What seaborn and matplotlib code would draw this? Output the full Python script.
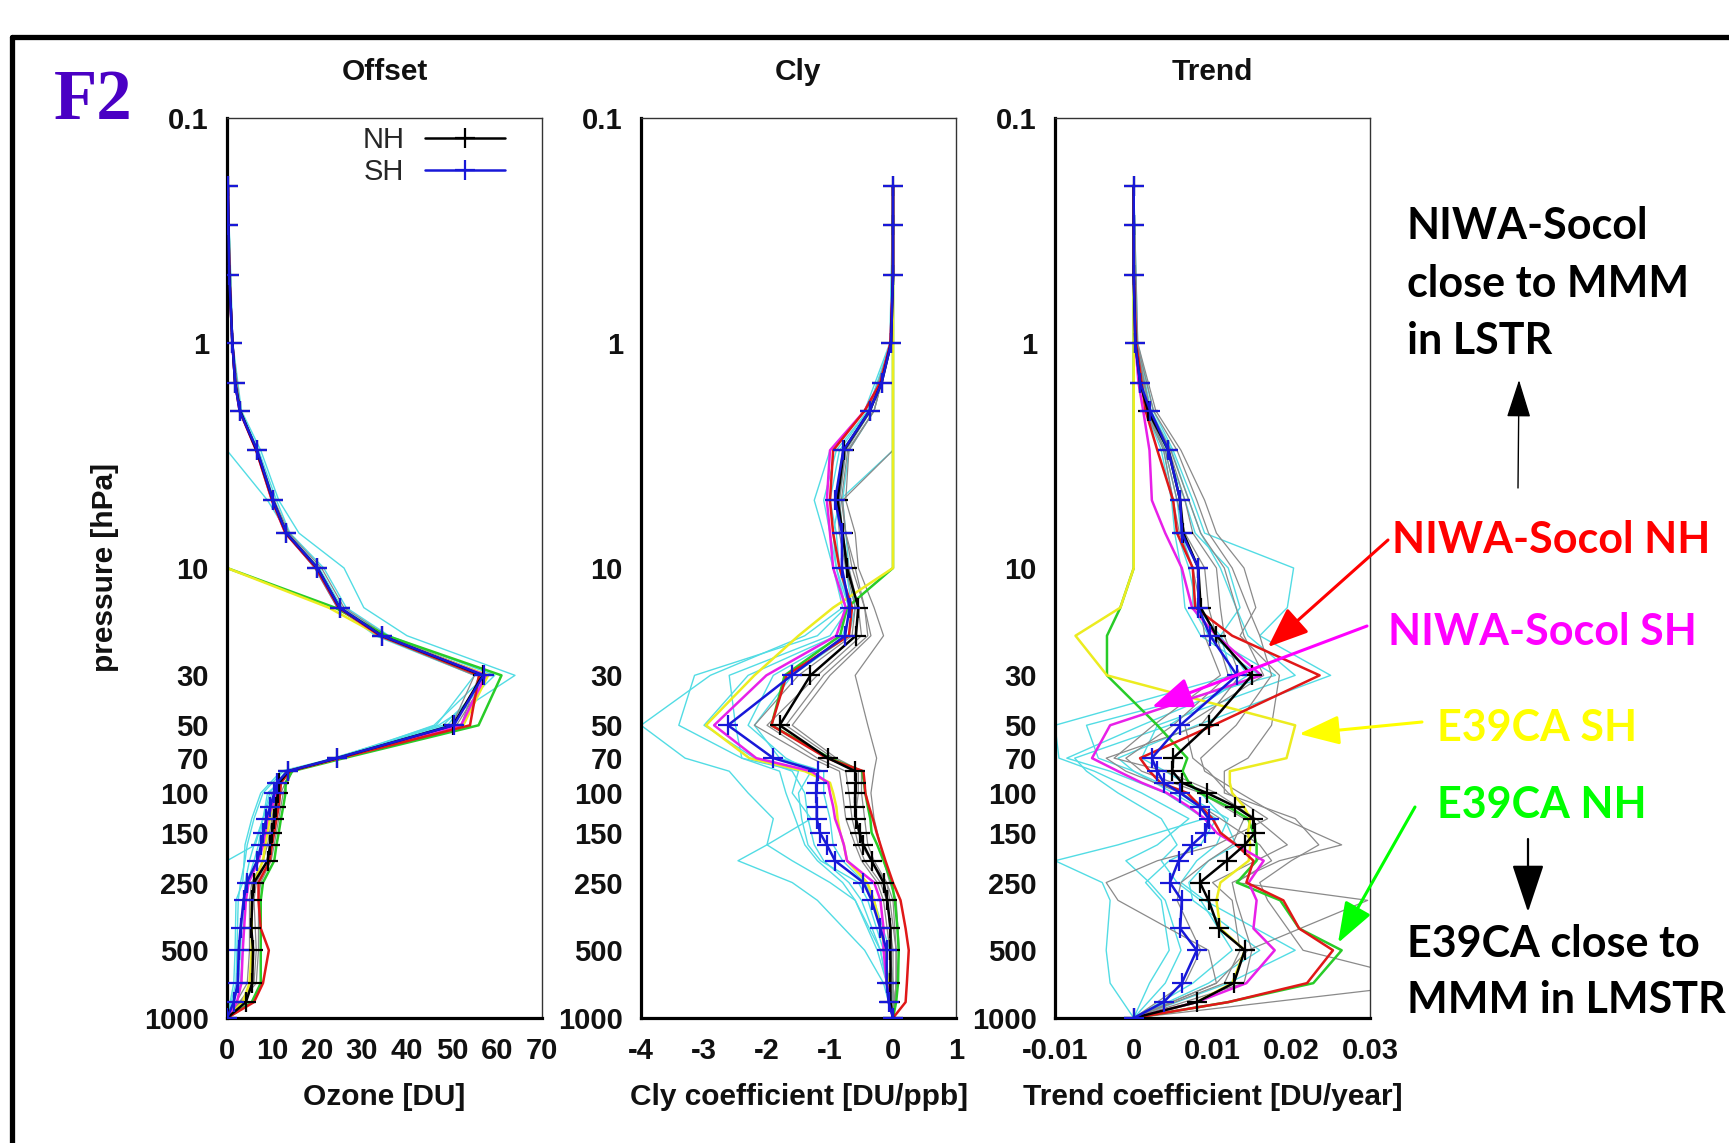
import matplotlib
matplotlib.use("Agg")
import matplotlib.pyplot as plt
from matplotlib.lines import Line2D
from matplotlib.patches import FancyArrowPatch
from matplotlib.ticker import NullLocator
import numpy as np
import seaborn as sns

sns.set_style("white")
plt.rcParams['font.family'] = ['Liberation Sans', 'DejaVu Sans']

# ---------------- data ----------------
levels = [0.2, 0.3, 0.5, 1, 1.5, 2, 3, 5, 7, 10, 15, 20, 30, 50, 70, 80, 90, 100,
          115, 130, 150, 170, 200, 250, 300, 400, 500, 700, 850, 1000]
model_levels = [0.2, 1, 2, 3, 5, 7, 10, 15, 20, 30, 50, 70, 80, 100, 130, 170,
                200, 250, 300, 500, 700, 1000]

ytick_vals = [0.1, 1, 10, 30, 50, 70, 100, 150, 250, 500, 1000]
ytick_labels = ["0.1", "1", "10", "30", "50", "70", "100", "150", "250", "500", "1000"]

# ---- Offset panel (Ozone DU)
offset_nh = [0.2, 0.3, 0.5, 1.2, 1.8, 2.9, 6.6, 10.2, 13.2, 20.1, 25.0, 34.4, 56.8, 50.2, 24.5,
             13.6, 11.6, 11.3, 10.9, 10.5, 10.0, 9.6, 9.0, 6.0, 5.6, 5.4, 5.8, 5.6, 4.2, 0.0]
offset_sh = [0.2, 0.3, 0.5, 1.2, 1.8, 2.8, 6.7, 10.2, 13.2, 20.1, 25.0, 34.4, 57.0, 50.4, 24.4,
             13.5, 11.1, 10.5, 9.6, 8.7, 8.1, 7.6, 6.7, 4.4, 3.7, 3.0, 2.6, 2.4, 1.5, 0.0]
offset_red = [0.2, 0.3, 0.5, 1.2, 1.8, 2.8, 6.5, 10.0, 13.0, 19.8, 24.8, 34.0, 56.0, 54.0, 25.0,
              14.0, 12.0, 11.8, 11.5, 11.0, 10.5, 10.0, 9.5, 7.0, 7.0, 7.5, 9.3, 8.0, 6.0, 0.0]
offset_magenta = [0.2, 0.3, 0.5, 1.2, 1.8, 2.8, 6.5, 10.0, 13.0, 19.8, 24.8, 34.0, 57.5, 52.0, 24.8,
                  13.5, 11.5, 11.0, 10.0, 9.0, 8.5, 8.0, 7.0, 4.8, 4.2, 3.8, 3.5, 3.2, 2.2, 0.0]
offset_yellow = [0, 0, 0, 0, 0, 0, 0, 0, 0, 0, 22.6, 34.0, 58.0, 52.5, 25.0,
                 13.5, 11.5, 11.0, 10.0, 9.5, 9.0, 8.5, 8.0, 6.0, 5.5, 5.5, 5.5, 5.0, 3.5, 0.0]
offset_green = [0, 0, 0, 0, 0, 0, 0, 0, 0, 0, 24.0, 35.5, 61.0, 55.9, 26.0,
                14.5, 13.0, 13.0, 12.5, 12.0, 11.5, 11.0, 10.5, 8.0, 7.5, 7.5, 7.5, 7.5, 5.5, 0.0]
offset_cyan = [
    [0.2, 1.3, 3.2, 7.5, 11.5, 16.0, 26.0, 30.4, 40.0, 64.0, 47.0, 25.0, 14.0, 10.0, 8.0, 7.0, 6.0, 4.5, 3.5, 3.0, 2.5, 0.0],
    [0.2, 1.2, 3.0, 7.0, 11.0, 14.0, 21.5, 26.5, 36.0, 59.5, 48.0, 23.5, 13.0, 9.5, 8.0, 6.0, 5.0, 4.0, 3.8, 3.5, 3.0, 0.0],
    [0.0, 0.0, 0.0, 0.0, 9.0, 13.5, 20.5, 25.5, 35.0, 58.0, 49.0, 24.0, 12.5, 8.0, 6.0, 4.5, 4.0, 3.0, 2.5, 2.2, 2.0, 0.0],
    [0.2, 1.2, 2.9, 6.8, 10.5, 13.5, 20.0, 25.5, 35.0, 57.5, 46.0, 25.0, 14.5, 9.0, 8.0, 6.3, 0.0, 0.0, 0.0, 0.0, 0.0, 0.0],
    [0.2, 1.1, 2.7, 6.5, 10.0, 13.0, 19.5, 24.5, 33.0, 55.0, 46.5, 24.0, 12.0, 7.5, 5.5, 4.0, 3.8, 3.5, 2.0, 1.8, 1.5, 0.0],
]
offset_gray = [
    [0.2, 1.2, 3.0, 6.8, 10.5, 13.8, 21.0, 26.0, 35.5, 58.0, 51.0, 25.0, 14.5, 12.5, 11.5, 10.5, 9.8, 7.5, 7.0, 7.0, 6.5, 0.0],
    [0.2, 1.2, 2.9, 6.5, 10.0, 13.2, 20.0, 25.0, 34.0, 56.0, 52.0, 25.5, 14.0, 12.0, 11.0, 10.0, 9.0, 6.5, 6.0, 6.5, 6.0, 0.0],
    [0.2, 1.1, 2.8, 6.4, 10.0, 13.0, 19.5, 24.5, 33.5, 55.0, 50.0, 24.0, 13.0, 11.0, 10.0, 9.0, 8.0, 5.5, 5.0, 5.0, 4.5, 0.0],
]

# ---- Cly panel (DU/ppb)
cly_nh = [0, 0, 0, -0.03, -0.18, -0.37, -0.78, -0.88, -0.80, -0.73, -0.55, -0.59, -1.31, -1.80, -1.03,
          -0.60, -0.59, -0.60, -0.60, -0.59, -0.53, -0.47, -0.34, -0.15, -0.09, -0.04, -0.04, -0.04, -0.04, 0]
cly_sh = [0, 0, 0, -0.03, -0.18, -0.37, -0.79, -0.92, -0.81, -0.81, -0.69, -0.76, -1.61, -2.62, -1.90,
          -1.19, -1.21, -1.22, -1.21, -1.21, -1.16, -1.05, -0.92, -0.47, -0.34, -0.20, -0.10, -0.10, -0.07, 0]
cly_red = [0, 0, 0, -0.04, -0.2, -0.45, -0.95, -1.0, -0.95, -0.85, -0.65, -0.7, -1.69, -1.93, -1.05,
           -0.47, -0.45, -0.44, -0.38, -0.32, -0.26, -0.2, -0.12, 0.0, 0.12, 0.2, 0.25, 0.22, 0.2, 0]
cly_magenta = [0, 0, 0, -0.04, -0.2, -0.45, -1.0, -1.05, -1.0, -0.95, -0.75, -0.9, -2.01, -2.84, -2.17,
               -1.3, -1.03, -1.0, -0.95, -0.92, -0.84, -0.78, -0.73, -0.3, -0.2, -0.15, -0.15, -0.1, -0.05, 0]
cly_yellow = [0, 0, 0, 0, 0, 0, 0, 0, 0, 0, -0.95, -1.5, -2.2, -2.97, -2.28,
              -1.4, -1.0, -0.95, -0.9, -0.88, -0.84, -0.78, -0.73, -0.41, -0.3, -0.2, -0.12, -0.08, -0.05, 0]
cly_green = [0, 0, 0, 0, 0, 0, 0, 0, 0, 0, -0.73, -0.84, -1.72, -1.93, -1.0,
             -0.49, -0.46, -0.44, -0.4, -0.36, -0.34, -0.25, -0.15, -0.02, 0.03, 0.07, 0.09, 0.08, 0.05, 0]
cly_cyan = [
    [0, -0.05, -0.45, -1.0, -1.25, -1.1, -0.95, -0.8, -1.4, -2.9, -4.0, -3.3, -2.6, -2.3, -1.9, -2.0, -1.6, -1.0, -0.6, -0.2, -0.1, 0],
    [0, -0.04, -0.4, -0.9, -1.1, -1.0, -0.9, -0.75, -1.2, -3.15, -3.4, -2.4, -1.5, -1.6, -1.3, -2.0, -2.46, -1.6, -1.2, -0.45, -0.15, 0],
    [0, 0, 0, 0, -0.85, -0.95, -0.9, -0.7, -0.9, -2.3, -3.0, -2.2, -1.6, -1.4, -1.35, -1.25, -1.1, -0.7, -0.5, -0.2, -0.1, 0],
    [0, -0.03, -0.35, -0.75, -0.85, -0.8, -0.75, -0.65, -0.8, -1.9, -2.3, -1.7, -1.3, -1.5, -1.45, -1.35, -1.15, -0.55, -0.4, -0.15, -0.05, 0],
    [0, -0.02, -0.3, -0.7, -0.8, -0.75, -0.7, -0.6, -0.7, -1.6, -2.2, -1.8, -1.1, -1.1, -1.0, -0.95, -0.8, -0.45, -0.3, -0.05, 0.0, 0],
    [0, -0.03, -0.4, -0.85, -1.0, -0.9, -0.85, -0.7, -1.0, -2.6, -2.5, -2.4, -1.8, -1.7, -1.55, -1.4, -1.2, -0.8, -0.6, -0.25, -0.1, 0],
]
cly_gray = [
    [0, -0.02, -0.3, -0.7, -0.75, -0.6, -0.55, -0.3, -0.15, -0.6, -0.4, -0.26, -0.3, -0.35, -0.3, -0.2, -0.15, -0.05, 0.05, 0.1, 0.05, 0],
    [0, 0, 0, 0, -0.8, -0.75, -0.65, -0.45, -0.35, -1.0, -1.6, -0.9, -0.5, -0.5, -0.45, -0.4, -0.3, -0.1, -0.05, 0.05, 0.05, 0],
    [0, -0.03, -0.35, -0.75, -0.85, -0.8, -0.7, -0.55, -0.5, -1.2, -2.0, -1.2, -0.75, -0.7, -0.65, -0.55, -0.45, -0.2, -0.1, 0, 0, 0],
    [0, -0.03, -0.38, -0.8, -0.9, -0.85, -0.75, -0.6, -0.65, -1.5, -2.2, -1.3, -0.85, -0.8, -0.75, -0.6, -0.5, -0.25, -0.15, -0.05, 0, 0],
    [0, -0.02, -0.3, -0.72, -0.82, -0.75, -0.6, -0.45, -0.4, -1.1, -1.7, -0.95, -0.55, -0.55, -0.6, -0.5, -0.35, -0.1, 0.0, 0.05, 0.05, 0],
]

# ---- Trend panel (DU/year)
trend_nh = [0, 0, 0, 0.0002, 0.0008, 0.0018, 0.0044, 0.0059, 0.0063, 0.0082, 0.0085, 0.0105, 0.0150, 0.0095, 0.0050,
            0.0049, 0.0061, 0.0093, 0.0129, 0.0152, 0.0154, 0.0141, 0.0118, 0.0084, 0.0095, 0.0108, 0.0141, 0.0127, 0.0080, 0]
trend_sh = [0, 0, 0, 0.0002, 0.0008, 0.0021, 0.0044, 0.0059, 0.0061, 0.0082, 0.0082, 0.0097, 0.0131, 0.0059, 0.0023,
            0.0030, 0.0038, 0.0059, 0.0084, 0.0095, 0.0091, 0.0074, 0.0057, 0.0046, 0.0061, 0.0059, 0.0080, 0.0061, 0.0038, 0]
trend_red = [0, 0, 0, 0.0003, 0.001, 0.0015, 0.003, 0.005, 0.0055, 0.0075, 0.0078, 0.0125, 0.0236, 0.0101, 0.0008,
             0.002, 0.0034, 0.0068, 0.0085, 0.010, 0.011, 0.013, 0.0152, 0.0143, 0.019, 0.021, 0.0253, 0.022, 0.012, 0]
trend_magenta = [0, 0, 0, 0.0002, 0.0006, 0.0012, 0.002, 0.0023, 0.004, 0.0061, 0.0074, 0.0105, 0.0162, -0.003, -0.0053,
                 -0.002, 0.001, 0.0042, 0.007, 0.009, 0.0105, 0.013, 0.0165, 0.0146, 0.0156, 0.0152, 0.0179, 0.0143, 0.008, 0]
trend_yellow = [0, 0, 0, 0, 0, 0, 0, 0, 0, 0, -0.0017, -0.0074, -0.0034, 0.0205, 0.0194,
                0.0122, 0.0122, 0.0125, 0.014, 0.0148, 0.0145, 0.0148, 0.0146, 0.011, 0.0105, 0.011, 0.0141, 0.0125, 0.008, 0]
trend_green = [0, 0, 0, 0, 0, 0, 0, 0, 0, 0, -0.0017, -0.0034, -0.0034, 0.003, 0.0068,
               0.0062, 0.007, 0.0084, 0.012, 0.0145, 0.0152, 0.0156, 0.0156, 0.0131, 0.0186, 0.021, 0.0264, 0.0228, 0.012, 0]
trend_cyan = [
    [0, 0.0005, 0.0025, 0.005, 0.0075, 0.009, 0.0203, 0.0195, 0.016, 0.025, 0.008, -0.002, 0.0, 0.006, 0.012, 0.0105, 0.008, 0.006, 0.009, 0.0205, 0.012, 0],
    [0, 0.0003, 0.0018, 0.0038, 0.005, 0.0055, 0.007, 0.008, 0.011, 0.0125, -0.01, -0.0095, -0.005, 0.001, 0.007, 0.003, -0.001, 0.002, 0.004, 0.006, 0.004, 0],
    [0, 0.0002, 0.0015, 0.0035, 0.0048, 0.0052, 0.006, 0.0065, 0.0085, 0.016, 0.001, -0.0085, -0.003, 0.004, 0.009, -0.002, -0.01, -0.004, -0.003, -0.0035, -0.003, 0],
    [0, 0.0004, 0.0022, 0.0048, 0.007, 0.0085, 0.011, 0.013, 0.0145, 0.0205, 0.003, 0.001, 0.004, 0.0085, 0.0115, 0.013, 0.0095, 0.007, 0.0075, 0.016, 0.0095, 0],
    [0, 0.0002, 0.0016, 0.004, 0.0055, 0.006, 0.0075, 0.0075, 0.0095, 0.018, -0.006, -0.0045, 0.0, 0.005, 0.0105, 0.0085, 0.0045, 0.0015, 0.0035, 0.0045, 0.002, 0],
    [0, 0.0003, 0.0019, 0.0042, 0.0065, 0.0078, 0.012, 0.0135, 0.011, 0.0145, 0.0045, -0.0075, -0.006, -0.002, 0.0035, 0.0055, 0.0035, 0.0055, 0.0085, 0.0125, 0.0075, 0],
]
trend_gray = [
    [0, 0.0004, 0.0025, 0.0055, 0.008, 0.0095, 0.0125, 0.0145, 0.016, 0.0175, 0.013, 0.0085, 0.009, 0.0135, 0.019, 0.0264, 0.0185, 0.0125, 0.013, 0.015, 0.014, 0],
    [0, 0.0003, 0.002, 0.0045, 0.0065, 0.0075, 0.0105, 0.011, 0.0115, 0.0135, 0.0085, -0.0035, -0.001, 0.006, 0.011, 0.016, 0.0175, 0.013, 0.0297, 0.0145, 0.0105, 0],
    [0, 0.0005, 0.0028, 0.006, 0.009, 0.0105, 0.014, 0.0155, 0.0135, 0.0185, 0.0175, 0.0145, 0.0115, 0.0115, 0.0205, 0.0235, 0.02, 0.016, 0.017, 0.0215, 0.038, 0],
    [0, 0.0002, 0.0017, 0.004, 0.0055, 0.0065, 0.009, 0.0095, 0.0105, 0.012, 0.005, -0.001, 0.001, 0.0085, 0.014, 0.0125, 0.0095, 0.006, 0.0055, 0.0085, 0.0065, 0],
    [0, 0.0003, 0.0021, 0.0047, 0.007, 0.0085, 0.0115, 0.013, 0.014, 0.0165, 0.0065, 0.0075, 0.0095, 0.012, 0.017, 0.0105, 0.003, -0.0035, -0.002, 0.0095, 0.0105, 0],
    [0, 0.0002, 0.0015, 0.0038, 0.005, 0.0058, 0.0075, 0.0085, 0.009, 0.011, 0.0025, -0.0025, 0.004, 0.0105, 0.0155, 0.0195, 0.0155, 0.01, 0.0125, 0.0135, 0.0115, 0],
]

panel_titles = ["Offset", "Cly", "Trend"]
panel_xlabels = ["Ozone [DU]", "Cly coefficient [DU/ppb]", "Trend coefficient [DU/year]"]
panel_xlims = [(0, 70), (-4, 1), (-0.01, 0.03)]
panel_xticks = [[0, 10, 20, 30, 40, 50, 60, 70], [-4, -3, -2, -1, 0, 1], [-0.01, 0, 0.01, 0.02, 0.03]]
panel_xticklabels = [["0", "10", "20", "30", "40", "50", "60", "70"],
                     ["-4", "-3", "-2", "-1", "0", "1"],
                     ["-0.01", "0", "0.01", "0.02", "0.03"]]

# ---------------- figure ----------------
W, H = 1729, 1143
fig = plt.figure(figsize=(W / 100, H / 100), dpi=100)
fig.patch.set_facecolor("white")


def fx(p):
    return p / W


def fy(p):
    return 1 - p / H


AX_TOP, AX_BOT, AX_W = 118, 1018, 315
lefts = [227, 641, 1055]

CYAN = "#52dce4"
GRAY = "#8a8a8a"
RED = "#e01818"
MAGENTA = "#e820e8"
YELLOW = "#ecec20"
GREEN = "#28cc28"
BLUE = "#1818d8"

panels = [
    (offset_nh, offset_sh, offset_red, offset_magenta, offset_yellow, offset_green, offset_cyan, offset_gray),
    (cly_nh, cly_sh, cly_red, cly_magenta, cly_yellow, cly_green, cly_cyan, cly_gray),
    (trend_nh, trend_sh, trend_red, trend_magenta, trend_yellow, trend_green, trend_cyan, trend_gray),
]


def draw(ax, xs, ys, **kw):
    sns.lineplot(x=np.asarray(xs, float), y=np.asarray(ys, float), ax=ax, orient="y",
                 sort=False, estimator=None, **kw)


MK = dict(marker="+", markersize=14, markeredgewidth=1.6)

axes = []
for i, (left, data) in enumerate(zip(lefts, panels)):
    nh, sh, red, mag, yel, grn, cyans, grays = data
    ax = fig.add_axes([fx(left), fy(AX_BOT), AX_W / W, (AX_BOT - AX_TOP) / H])
    ax.set_facecolor("white")
    ax.set_yscale("log")
    for v in cyans:
        draw(ax, v, model_levels, color=CYAN, lw=1.0, zorder=1)
    for v in grays:
        draw(ax, v, model_levels, color=GRAY, lw=0.9, zorder=1)
    draw(ax, grn, levels, color=GREEN, lw=1.8, zorder=2)
    draw(ax, yel, levels, color=YELLOW, lw=1.8, zorder=2)
    draw(ax, mag, levels, color=MAGENTA, lw=1.8, zorder=2)
    draw(ax, red, levels, color=RED, lw=1.8, zorder=2)
    draw(ax, nh, levels, color="black", lw=1.8, markeredgecolor="black", zorder=3, **MK)
    draw(ax, sh, levels, color=BLUE, lw=1.8, markeredgecolor=BLUE, zorder=4, **MK)

    ax.set_ylim(1000, 0.1)
    ax.set_xlim(*panel_xlims[i])
    ax.set_yticks(ytick_vals)
    ax.set_yticklabels(ytick_labels, fontweight="bold", fontsize=21)
    ax.yaxis.set_minor_locator(NullLocator())
    ax.set_xticks(panel_xticks[i])
    ax.set_xticklabels(panel_xticklabels[i], fontweight="bold", fontsize=21)
    ax.xaxis.set_minor_locator(NullLocator())
    ax.set_xlabel("")
    ax.set_ylabel("")
    ax.tick_params(axis="both", which="major", direction="in", length=9, width=1.6,
                   color="black", top=False, right=False, labelcolor="#111111")
    ax.tick_params(axis="y", pad=13)
    ax.tick_params(axis="x", pad=14)
    for s in ["left", "bottom"]:
        ax.spines[s].set_linewidth(2.3)
        ax.spines[s].set_color("black")
    for s in ["top", "right"]:
        ax.spines[s].set_linewidth(1.0)
        ax.spines[s].set_color("#333333")
    ax.grid(False)
    cx = left + AX_W / 2
    fig.text(fx(cx), fy(72), panel_titles[i], ha="center", va="center",
             fontsize=21.5, fontweight="bold", color="#111111")
    fig.text(fx(cx), fy(1097), panel_xlabels[i], ha="center", va="center",
             fontsize=21.5, fontweight="bold", color="#111111")
    axes.append(ax)

fig.text(fx(105), fy(568), "pressure [hPa]", rotation=90, ha="center", va="center",
         fontsize=21.5, fontweight="bold", color="#111111")

# legend in first panel
handles = [Line2D([], [], color="black", lw=1.8, markeredgecolor="black", **MK),
           Line2D([], [], color=BLUE, lw=1.8, markeredgecolor=BLUE, **MK)]
leg = axes[0].legend(handles, ["NH", "SH"], loc="upper right",
                     bbox_to_anchor=((505 - 227) / AX_W, 1 - (126 - AX_TOP) / (AX_BOT - AX_TOP)),
                     frameon=False, markerfirst=False, handlelength=2.75, handletextpad=0.7,
                     fontsize=21, labelspacing=0.15, borderpad=0, borderaxespad=0, numpoints=1)

# F2 label
fig.text(fx(54), fy(119), "F2", family=["Liberation Serif", "DejaVu Serif"], fontweight="bold",
         fontsize=51, color="#4a00c4", ha="left", va="baseline")

# outer frame (partially visible)
fig.add_artist(Line2D([fx(12), fx(12)], [fy(37), fy(1300)], transform=fig.transFigure,
                      color="black", lw=3.8, solid_capstyle="round"))
fig.add_artist(Line2D([fx(12), fx(1900)], [fy(37), fy(37)], transform=fig.transFigure,
                      color="black", lw=3.8, solid_capstyle="round"))

# annotations
ann_font = dict(family=["Lato", "Liberation Sans", "DejaVu Sans"], fontweight="bold", fontsize=31)


def note(x, y, s, color):
    fig.text(fx(x), fy(y), s, color=color, ha="left", va="baseline", **ann_font)


note(1407, 239, "NIWA-Socol", "black")
note(1407, 297, "close to MMM", "black")
note(1407, 354, "in LSTR", "black")
note(1392, 553, "NIWA-Socol NH", "#ff0000")
note(1388, 645, "NIWA-Socol SH", "#ff00ff")
note(1437, 741, "E39CA SH", "#ffff00")
note(1437, 818, "E39CA NH", "#00ff00")
note(1407, 957, "E39CA close to", "black")
note(1407, 1013, "MMM in LMSTR", "black")


def arrow(tail, tip, color, lw, hl, hw):
    a = FancyArrowPatch(posA=(fx(tail[0]), fy(tail[1])), posB=(fx(tip[0]), fy(tip[1])),
                        transform=fig.transFigure,
                        arrowstyle=f"-|>,head_length={hl},head_width={hw}",
                        mutation_scale=1, color=color, lw=lw, shrinkA=0, shrinkB=0)
    fig.add_artist(a)


arrow((1518, 488), (1519, 380), "black", 1.0, 24, 7.6)
arrow((1388, 540), (1268, 647), "#ff0000", 2.2, 25, 10)
arrow((1367, 626), (1152, 707), "#ff00ff", 2.2, 25, 9.5)
arrow((1422, 722), (1299, 734), "#ffff00", 2.2, 25, 9)
arrow((1415, 807), (1338, 943), "#00ff00", 2.2, 25, 9)
arrow((1528, 839), (1528, 912), "black", 1.6, 30, 10)

fig.savefig("out.png", dpi=100, facecolor="white")
